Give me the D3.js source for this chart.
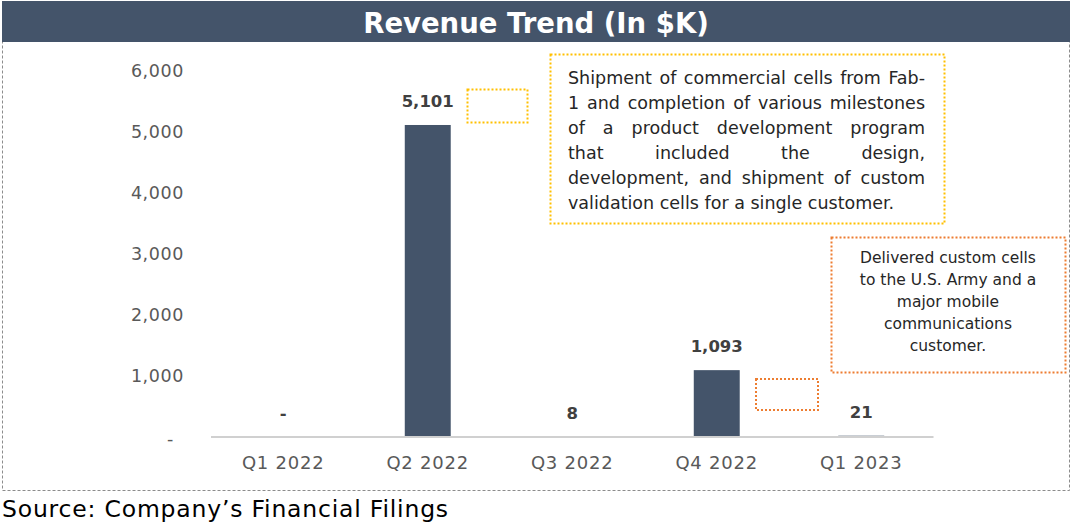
<!DOCTYPE html>
<html>
<head>
<meta charset="utf-8">
<script src="https://cdn.jsdelivr.net/npm/d3@7"></script>
<style>
  html, body { margin: 0; padding: 0; background: #ffffff; }
  svg { display: block; }
</style>
</head>
<body>
<script>
// ---- data ----
const categories = ["Q1 2022", "Q2 2022", "Q3 2022", "Q4 2022", "Q1 2023"];
const revenue = [0, 5101, 8, 1093, 21];
const dataLabels = ["-", "5,101", "8", "1,093", "21"];
const yTicks = [0, 1000, 2000, 3000, 4000, 5000, 6000];
const yTickLabels = ["-", "1,000", "2,000", "3,000", "4,000", "5,000", "6,000"];
const titleText = "Revenue Trend (In $K)";
const sourceText = "Source: Company\u2019s Financial Filings";
const note1Lines = [
  "Shipment of commercial cells from Fab-",
  "1 and completion of various milestones",
  "of a product development program",
  "that included the design,",
  "development, and shipment of custom",
  "validation cells for a single customer."
];
const note2Lines = [
  "Delivered custom cells",
  "to the U.S. Army and a",
  "major mobile",
  "communications",
  "customer."
];

// ---- setup ----
const W = 1073, H = 523;
const FONT = "'DejaVu Sans', sans-serif";
const NAVY = "#44546A";
const svg = d3.select("body").append("svg").attr("width", W).attr("height", H);

// outer dashed frame
svg.append("rect").attr("x", 2.5).attr("y", 1.5).attr("width", 1067).attr("height", 489)
  .attr("fill", "none").attr("stroke", "#8c8c8c").attr("stroke-width", 1).attr("stroke-dasharray", "3,2");

// title bar
svg.append("rect").attr("x", 2).attr("y", 1).attr("width", 1068).attr("height", 41).attr("fill", NAVY);
svg.append("text").attr("x", 536).attr("y", 33).attr("text-anchor", "middle")
  .attr("font-family", FONT).attr("font-weight", "bold").attr("font-size", 27.5)
  .attr("fill", "#ffffff").text(titleText);

// scales
const x = d3.scaleBand().domain(categories).range([211, 933.5]).paddingInner(0.682).paddingOuter(0.341);
const y = d3.scaleLinear().domain([0, 6000]).range([437, 70]);

// y axis labels
const yAxis = d3.axisLeft(y).tickValues(yTicks).tickSize(0).tickPadding(0)
  .tickFormat((d, i) => yTickLabels[i]);
const gy = svg.append("g").attr("transform", "translate(184,0)").call(yAxis);
gy.select(".domain").remove();
gy.selectAll("text").attr("font-family", FONT).attr("font-size", 17.5).attr("fill", "#595959")
  .attr("letter-spacing", 0.6)
  .attr("dy", (d) => d === 0 ? "0.45em" : "0.35em");
gy.selectAll("text").filter(d => d === 0).attr("dx", -10);

// bars
svg.append("g").selectAll("rect").data(revenue).join("rect")
  .attr("x", (d, i) => x(categories[i]))
  .attr("y", d => y(d))
  .attr("width", x.bandwidth())
  .attr("height", d => y(0) - y(d))
  .attr("fill", NAVY);

// x axis baseline
const xAxis = d3.axisBottom(x).tickSize(0).tickPadding(19);
const gx = svg.append("g").attr("transform", `translate(0,${y(0)})`).call(xAxis);
gx.select(".domain").attr("stroke", "#d0d0d0").attr("stroke-width", 2)
  .attr("d", `M${x.range()[0]},0H${x.range()[1]}`);
gx.selectAll("text").attr("font-family", FONT).attr("font-size", 18).attr("fill", "#595959")
  .attr("letter-spacing", 0.8)
  .attr("dy", "0.71em");

// data labels
svg.append("g").selectAll("text").data(revenue).join("text")
  .attr("x", (d, i) => x(categories[i]) + x.bandwidth() / 2)
  .attr("y", d => Math.min(y(d), y(0)) - 18)
  .attr("text-anchor", "middle")
  .attr("font-family", FONT).attr("font-weight", "bold").attr("font-size", 16.5)
  .attr("fill", "#404040")
  .text((d, i) => dataLabels[i]);

// callout boxes
function dotted(x0, y0, w, h, color) {
  svg.append("rect").attr("x", x0).attr("y", y0).attr("width", w).attr("height", h)
    .attr("fill", "none").attr("stroke", color).attr("stroke-width", 2).attr("stroke-dasharray", "2,2");
}
const YEL = "#FFC000", ORA = "#ED7D31";
dotted(467.5, 89.5, 60, 33, YEL);
dotted(550.5, 54.5, 394, 169, YEL);
dotted(756, 379, 62, 31, ORA);
dotted(831.5, 237.5, 234, 135, ORA);

// note 1: justified text
const n1 = svg.append("g").attr("font-family", FONT).attr("font-size", 17.5).attr("fill", "#262626");
const left1 = 568, right1 = 925;
note1Lines.forEach((line, li) => {
  const yy = 84 + li * 25;
  const words = line.split(" ");
  if (li === note1Lines.length - 1) {
    n1.append("text").attr("x", left1).attr("y", yy).text(line);
    return;
  }
  const nodes = words.map(w => n1.append("text").attr("y", yy).text(w));
  const widths = nodes.map(n => n.node().getComputedTextLength());
  const total = d3.sum(widths);
  const gap = words.length > 1 ? (right1 - left1 - total) / (words.length - 1) : 0;
  let cx = left1;
  nodes.forEach((n, k) => { n.attr("x", cx); cx += widths[k] + gap; });
});

// note 2: centered text
const n2 = svg.append("g").attr("font-family", FONT).attr("font-size", 15.5).attr("fill", "#262626")
  .attr("text-anchor", "middle");
note2Lines.forEach((line, li) => {
  n2.append("text").attr("x", 948).attr("y", 263 + li * 22).text(line);
});

// source
svg.append("text").attr("x", 2).attr("y", 517).attr("font-family", FONT).attr("font-size", 23.5)
  .attr("letter-spacing", 0.8)
  .attr("fill", "#000000").text(sourceText);
</script>
</body>
</html>
